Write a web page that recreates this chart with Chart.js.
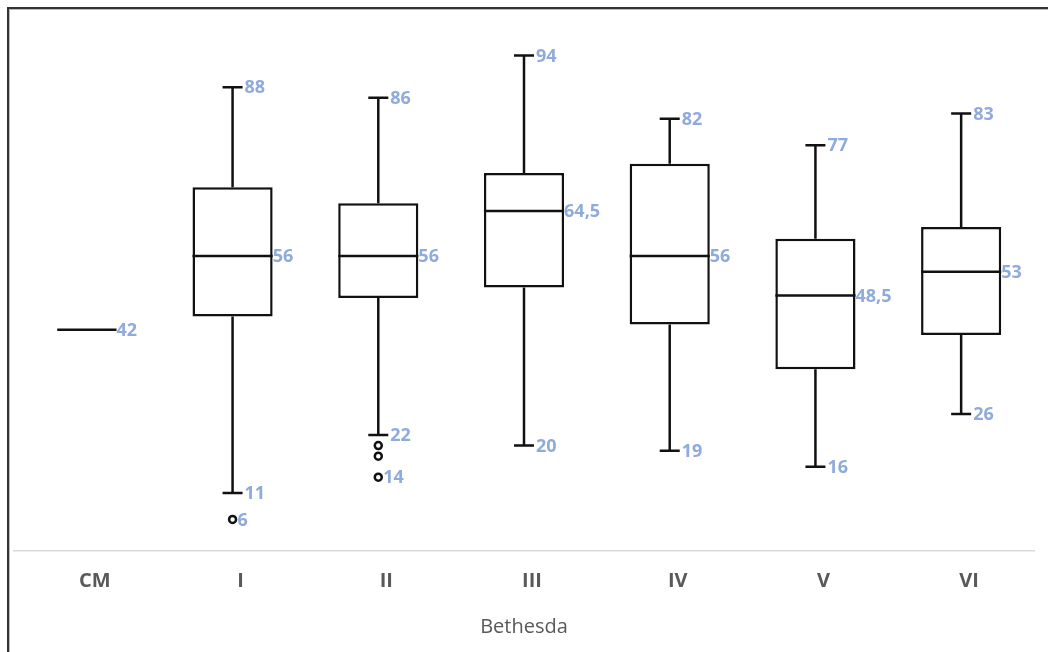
<!DOCTYPE html>
<html>
<head>
<meta charset="utf-8">
<script src="https://cdn.jsdelivr.net/npm/chart.js@4"></script>
<style>
  html, body { margin: 0; padding: 0; background: #fff; }
  #wrap { position: relative; width: 1048px; height: 652px; overflow: hidden; }
  #frame {
    position: absolute; left: 7px; top: 7px; right: -10px; bottom: -10px;
    border-left: 2px solid #333; border-top: 2px solid #333;
    box-shadow: inset 1px 1px 0 #bbb; pointer-events: none;
  }
</style>
</head>
<body>
<div id="wrap">
  <canvas id="boxChart"></canvas>
  <div id="frame"></div>
</div>
<script>
// Box plot data
const categories = ['CM', 'I', 'II', 'III', 'IV', 'V', 'VI'];
const minVals    = [42, 11, 22, 20, 19, 16, 26];
const q1Vals     = [42, 44.5, 48, 50, 43, 34.5, 41];
const medianVals = [42, 56, 56, 64.5, 56, 48.5, 53];
const q3Vals     = [42, 69, 66, 71.75, 73.5, 59.25, 61.5];
const maxVals    = [42, 88, 86, 94, 82, 77, 83];
const outliers   = [[], [6], [20, 18, 14], [], [], [], []];

const labelColor = '#8FAADC';
const lineColor = '#111';

function fmt(v) {
    return String(v).replace('.', ',');
}

// Whiskers, medians, outliers and value labels, drawn through the scales
const boxExtras = {
    id: 'boxExtras',
    afterDatasetsDraw(chart) {
        const ctx = chart.ctx;
        const x = chart.scales.x;
        const y = chart.scales.y;
        const meta = chart.getDatasetMeta(0);
        ctx.save();
        ctx.strokeStyle = lineColor;
        ctx.lineWidth = 2.5;
        ctx.font = 'bold 18px "Open Sans"';
        ctx.textBaseline = 'middle';
        ctx.textAlign = 'left';

        categories.forEach(function(cat, i) {
            const bar = meta.data[i];
            const cx = x.getPixelForValue(i);
            const half = bar.width / 2;
            const cap = 10;
            const yMin = y.getPixelForValue(minVals[i]);
            const yMax = y.getPixelForValue(maxVals[i]);
            const yQ1 = y.getPixelForValue(q1Vals[i]);
            const yQ3 = y.getPixelForValue(q3Vals[i]);
            const yMed = y.getPixelForValue(medianVals[i]);

            const flat = minVals[i] === maxVals[i];

            ctx.beginPath();
            if (!flat) {
                // whiskers + caps
                ctx.moveTo(cx, yQ3); ctx.lineTo(cx, yMax);
                ctx.moveTo(cx - cap, yMax); ctx.lineTo(cx + cap, yMax);
                ctx.moveTo(cx, yQ1); ctx.lineTo(cx, yMin);
                ctx.moveTo(cx - cap, yMin); ctx.lineTo(cx + cap, yMin);
            }
            // median
            const mHalf = flat ? half * 0.74 : half;
            ctx.moveTo(cx - mHalf, yMed); ctx.lineTo(cx + mHalf, yMed);
            ctx.stroke();

            // outliers
            const outs = outliers[i];
            outs.forEach(function(v) {
                const oy = y.getPixelForValue(v);
                ctx.beginPath();
                ctx.arc(cx, oy, 3.5, 0, Math.PI * 2);
                ctx.fillStyle = '#fff';
                ctx.fill();
                ctx.stroke();
            });

            // labels
            ctx.fillStyle = labelColor;
            if (flat) {
                ctx.fillText(fmt(medianVals[i]), cx + mHalf, yMed + 1);
                return;
            }
            ctx.fillText(fmt(maxVals[i]), cx + cap + 2, yMax + 1);
            ctx.fillText(fmt(minVals[i]), cx + cap + 2, yMin + 1);
            ctx.fillText(fmt(medianVals[i]), cx + half, yMed + 1);
            if (outs.length) {
                const low = Math.min.apply(null, outs);
                ctx.fillText(fmt(low), cx + 5, y.getPixelForValue(low) + 1);
            }
        });
        ctx.restore();
    }
};

const ctx = document.getElementById('boxChart').getContext('2d');
const boxChart = new Chart(ctx, {
    type: 'bar',
    data: {
        labels: categories,
        datasets: [{
            label: 'Box',
            data: categories.map(function(c, i) { return [q1Vals[i], q3Vals[i]]; }),
            backgroundColor: '#fff',
            borderColor: lineColor,
            borderWidth: 2.5,
            borderSkipped: false,
            barPercentage: 0.55,
            categoryPercentage: 1
        }]
    },
    options: {
        responsive: true,
        maintainAspectRatio: false,
        animation: false,
        layout: {
            padding: { left: 14, right: 14, top: 24, bottom: 13 }
        },
        plugins: {
            legend: { display: false },
            tooltip: { enabled: false }
        },
        scales: {
            x: {
                grid: { display: false, drawTicks: false },
                border: { display: true, color: '#D9D9D9', width: 1.5 },
                ticks: {
                    color: '#595959',
                    font: { family: '"Open Sans"', size: 20, weight: 'bold' },
                    padding: 18,
                    labelOffset: 8
                },
                title: {
                    display: true,
                    text: 'Bethesda',
                    color: '#595959',
                    font: { family: '"Open Sans"', size: 20 },
                    padding: { top: 4, bottom: 0 }
                }
            },
            y: {
                display: false,
                min: 0,
                max: 100
            }
        }
    },
    plugins: [boxExtras]
});
</script>
</body>
</html>
